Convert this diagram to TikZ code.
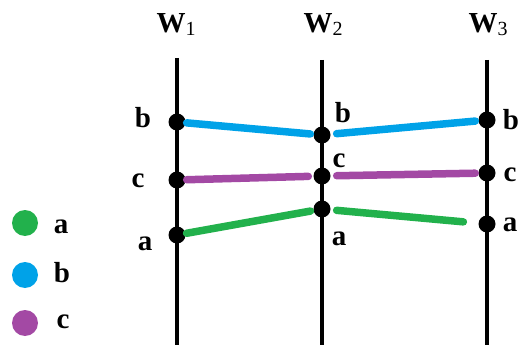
\documentclass[tikz,border=0pt]{standalone}
\usepackage{fontspec}
\setmainfont{Liberation Serif}
\definecolor{cgreen}{HTML}{22B14C}
\definecolor{cblue}{HTML}{00A2E8}
\definecolor{cpurple}{HTML}{A349A4}
\begin{document}
\begin{tikzpicture}[x=1pt,y=-1pt,
  wire/.style={line width=4.5pt},
  dot/.style={circle,fill=black,inner sep=0pt,minimum size=17pt},
  seg/.style={line width=7.5pt,line cap=round},
  lab/.style={font=\fontsize{29}{31}\selectfont\bfseries,inner sep=0pt},
  ttl/.style={font=\fontsize{29}{31}\selectfont,inner sep=0pt},
  leg/.style={circle,inner sep=0pt,minimum size=26pt}]
\useasboundingbox (0,0) rectangle (520,345);
% titles
\node[ttl] (t1) at (176,25) {\textbf{W}\raisebox{-3pt}{\fontsize{20}{22}\selectfont 1}};
\node[ttl] (t2) at (323,25) {\textbf{W}\raisebox{-3pt}{\fontsize{20}{22}\selectfont 2}};
\node[ttl] (t3) at (488,25) {\textbf{W}\raisebox{-3pt}{\fontsize{20}{22}\selectfont 3}};
% vertical lines
\coordinate (w1t) at (177,58); \coordinate (w1b) at (177,345);
\coordinate (w2t) at (322,60); \coordinate (w2b) at (322,345);
\coordinate (w3t) at (487,60); \coordinate (w3b) at (487,345);
\draw[wire] (w1t) -- (w1b);
\draw[wire] (w2t) -- (w2b);
\draw[wire] (w3t) -- (w3b);
% dots
\node[dot] (b1) at (177,122) {};
\node[dot] (c1) at (177,180) {};
\node[dot] (a1) at (177,235) {};
\node[dot] (b2) at (322,135) {};
\node[dot] (c2) at (322,176) {};
\node[dot] (a2) at (322,209) {};
\node[dot] (b3) at (487,120) {};
\node[dot] (c3) at (487,173) {};
\node[dot] (a3) at (487,224) {};
% segments
\draw[seg,cblue,shorten <=1pt,shorten >=3pt] (b1) -- (b2);
\draw[seg,cblue,shorten <=6pt,shorten >=3pt] (b2) -- (b3);
\draw[seg,cpurple,shorten <=1pt,shorten >=5pt] (c1) -- (c2);
\draw[seg,cpurple,shorten <=6pt,shorten >=3pt] (c2) -- (c3);
\draw[seg,cgreen,shorten <=1pt,shorten >=3pt] (a1) -- (a2);
\draw[seg,cgreen,shorten <=6pt,shorten >=15pt] (a2) -- (a3);
% labels
\node[lab] (lb1) at (143,118) {b};
\node[lab] (lc1) at (138,181) {c};
\node[lab] (la1) at (145,244) {a};
\node[lab] (lb2) at (343,113) {b};
\node[lab] (lc2) at (339,161) {c};
\node[lab] (la2) at (339,239) {a};
\node[lab] (lb3) at (511,120) {b};
\node[lab] (lc3) at (510,175) {c};
\node[lab] (la3) at (510,225) {a};
% legend
\node[leg,fill=cgreen] (ga) at (25,223) {};
\node[leg,fill=cblue] (gb) at (25,275) {};
\node[leg,fill=cpurple] (gc) at (25,323) {};
\node[lab] (gla) at (61,227) {a};
\node[lab] (glb) at (62,273) {b};
\node[lab] (glc) at (63,322) {c};
\end{tikzpicture}
\end{document}
